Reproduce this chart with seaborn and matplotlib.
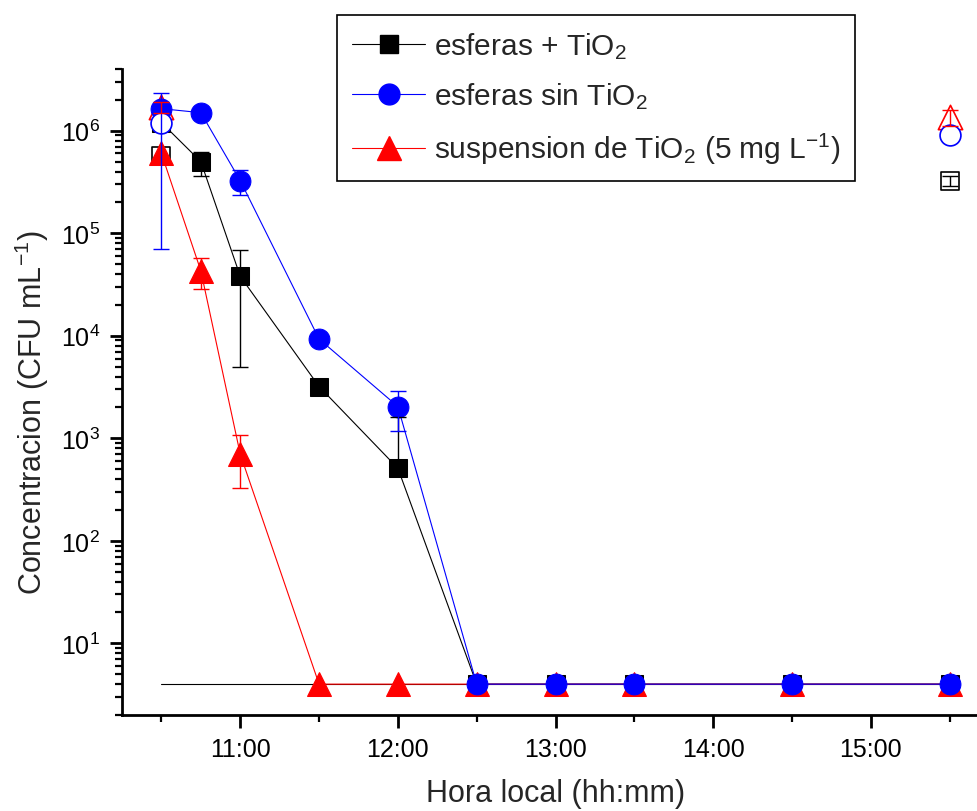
import numpy as np
import pandas as pd
import matplotlib
matplotlib.use("Agg")
import matplotlib.pyplot as plt
from matplotlib.lines import Line2D
from matplotlib.ticker import FixedLocator, LogLocator, NullFormatter, LogFormatterSciNotation
import seaborn as sns

# ---------------- data ----------------
times = ["10:30", "10:45", "11:00", "11:30", "12:00", "12:30", "13:00", "13:30", "14:30", "15:30"]

esferas_tio2 = [1.2e6, 5.0e5, 3.8e4, 3.2e3, 5.1e2, 4, 4, 4, 4, 4]
esferas_tio2_err_lo = [0, 1.4e5, 3.3e4, 0, 0, 0, 0, 0, 0, 0]
esferas_tio2_err_hi = [0, 1.2e5, 3.1e4, 0, 1.1e3, 0, 0, 0, 0, 0]

esferas_sin = [1.64e6, 1.5e6, 3.26e5, 9.3e3, 2.04e3, 4, 4, 4, 4, 4]
esferas_sin_err = [0, 0, 0.92e5, 0, 0.87e3, 0, 0, 0, 0, 0]

suspension = [6.0e5, 4.3e4, 7.0e2, 4, 4, 4, 4, 4, 4, 4]
suspension_err = [0, 1.45e4, 3.7e2, 0, 0, 0, 0, 0, 0, 0]

control_times = ["10:30", "15:30"]
control_esferas_tio2 = [5.7e5, 3.26e5]
control_esferas_tio2_err = [0, 3.8e4]
control_esferas_sin = [1.2e6, 9.1e5]
control_esferas_sin_err = [1.13e6, 0]
control_suspension = [1.7e6, 1.35e6]
control_suspension_err = [2.0e5, 2.3e5]

detection_limit = [4, 4]
limit_times = ["10:30", "15:30"]

xtick_hours = [11, 12, 13, 14, 15]
xtick_labels = ["11:00", "12:00", "13:00", "14:00", "15:00"]
xminor_hours = [10.5, 11.5, 12.5, 13.5, 14.5, 15.5]
ytick_values = [1e1, 1e2, 1e3, 1e4, 1e5, 1e6]

labels = ["esferas + TiO$_2$", "esferas sin TiO$_2$",
          "suspension de TiO$_2$ (5 mg L$^{-1}$)"]


def to_hours(ts):
    return np.array([int(t.split(":")[0]) + int(t.split(":")[1]) / 60 for t in ts])


# ---------------- style ----------------
sns.set_style("ticks")
plt.rcParams["font.family"] = ["Liberation Sans", "DejaVu Sans"]
plt.rcParams["mathtext.fontset"] = "custom"
plt.rcParams["mathtext.rm"] = "Liberation Sans"
plt.rcParams["mathtext.it"] = "Liberation Sans:italic"
plt.rcParams["mathtext.bf"] = "Liberation Sans:bold"

fig = plt.figure(figsize=(9.77, 8.12), dpi=100)
ax = fig.add_axes([0.1249, 0.1182, 0.8874, 0.7956])

x = to_hours(times)
xc = to_hours(control_times)
xl = to_hours(limit_times)

MS_SQ, MS_CI, MS_TR = 13.5, 15, 17.5
LW = 0.8

# detection limit line
sns.lineplot(x=xl, y=detection_limit, ax=ax, color="black", lw=LW, zorder=1.5,
             estimator=None, sort=False)

# filled series
sns.lineplot(x=x, y=esferas_tio2, ax=ax, color="black", lw=LW, marker="s",
             markersize=MS_SQ, markeredgecolor="black", markerfacecolor="black",
             estimator=None, sort=False, zorder=2.0)
sns.lineplot(x=x, y=suspension, ax=ax, color="red", lw=LW, marker="^",
             markersize=MS_TR, markeredgecolor="red", markerfacecolor="red",
             estimator=None, sort=False, zorder=2.1)
sns.lineplot(x=x, y=esferas_sin, ax=ax, color="blue", lw=LW, marker="o",
             markersize=MS_CI, markeredgecolor="blue", markerfacecolor="blue",
             estimator=None, sort=False, zorder=2.3)

# open control markers
sns.scatterplot(x=xc, y=control_esferas_tio2, ax=ax, marker="s", s=MS_SQ ** 2,
                facecolor="white", edgecolor="black", linewidth=1.2, zorder=1.9)
sns.scatterplot(x=xc, y=control_suspension, ax=ax, marker="^", s=MS_TR ** 2,
                facecolor="white", edgecolor="red", linewidth=1.2, zorder=2.2)
sns.scatterplot(x=xc, y=control_esferas_sin, ax=ax, marker="o", s=MS_CI ** 2,
                facecolor="white", edgecolor="blue", linewidth=1.2, zorder=2.4)


def errbars(xv, yv, lo, hi, color):
    xv = np.asarray(xv); yv = np.asarray(yv, float)
    lo = np.asarray(lo, float); hi = np.asarray(hi, float)
    m = (lo > 0) | (hi > 0)
    ax.errorbar(xv[m], yv[m], yerr=[lo[m], hi[m]], fmt="none", ecolor=color,
                elinewidth=1.0, capsize=5.5, capthick=1.0, zorder=3)


errbars(x, esferas_tio2, esferas_tio2_err_lo, esferas_tio2_err_hi, "black")
errbars(x, esferas_sin, esferas_sin_err, esferas_sin_err, "blue")
errbars(x, suspension, suspension_err, suspension_err, "red")
errbars(xc, control_esferas_tio2, control_esferas_tio2_err, control_esferas_tio2_err, "black")
errbars(xc, control_esferas_sin, control_esferas_sin_err, control_esferas_sin_err, "blue")
errbars(xc, control_suspension, control_suspension_err, control_suspension_err, "red")

# ---------------- axes ----------------
ax.set_yscale("log")
ax.set_ylim(2, 4e6)
ax.set_xlim(10.25, 15.75)
ax.yaxis.set_major_locator(FixedLocator(ytick_values))
ax.yaxis.set_major_formatter(LogFormatterSciNotation())
ax.yaxis.set_minor_locator(LogLocator(base=10, subs=np.arange(2, 10), numticks=20))
ax.yaxis.set_minor_formatter(NullFormatter())
ax.xaxis.set_major_locator(FixedLocator(xtick_hours))
ax.set_xticklabels(xtick_labels)
ax.xaxis.set_minor_locator(FixedLocator(xminor_hours))

for s in ["top", "right"]:
    ax.spines[s].set_visible(False)
for s in ["left", "bottom"]:
    ax.spines[s].set_linewidth(2.0)
    ax.spines[s].set_color("black")

ax.tick_params(which="major", direction="out", length=9, width=2.0,
               labelsize=18, pad=7, colors="black")
ax.tick_params(which="minor", direction="out", length=5, width=1.6, colors="black")

ax.set_xlabel("Hora local (hh:mm)", fontsize=22, labelpad=12)
ax.set_ylabel("Concentracion (CFU mL$^{-1}$)", fontsize=22)
ax.yaxis.set_label_coords(-0.082, 0.47)

# ---------------- legend ----------------
handles = [
    Line2D([], [], color="black", lw=LW, marker="s", markersize=MS_SQ,
           markerfacecolor="black", markeredgecolor="black"),
    Line2D([], [], color="blue", lw=LW, marker="o", markersize=MS_CI,
           markerfacecolor="blue", markeredgecolor="blue"),
    Line2D([], [], color="red", lw=LW, marker="^", markersize=MS_TR,
           markerfacecolor="red", markeredgecolor="red"),
]
leg = fig.legend(handles, labels, loc="upper left", bbox_to_anchor=(0.345, 0.980),
                 bbox_transform=fig.transFigure, borderaxespad=0, fontsize=21.5,
                 frameon=True, fancybox=False, framealpha=1, edgecolor="black",
                 handlelength=2.45, handletextpad=0.3, labelspacing=0.66,
                 borderpad=0.5)
leg.get_frame().set_linewidth(1.2)

fig.savefig("out.png", dpi=100)
